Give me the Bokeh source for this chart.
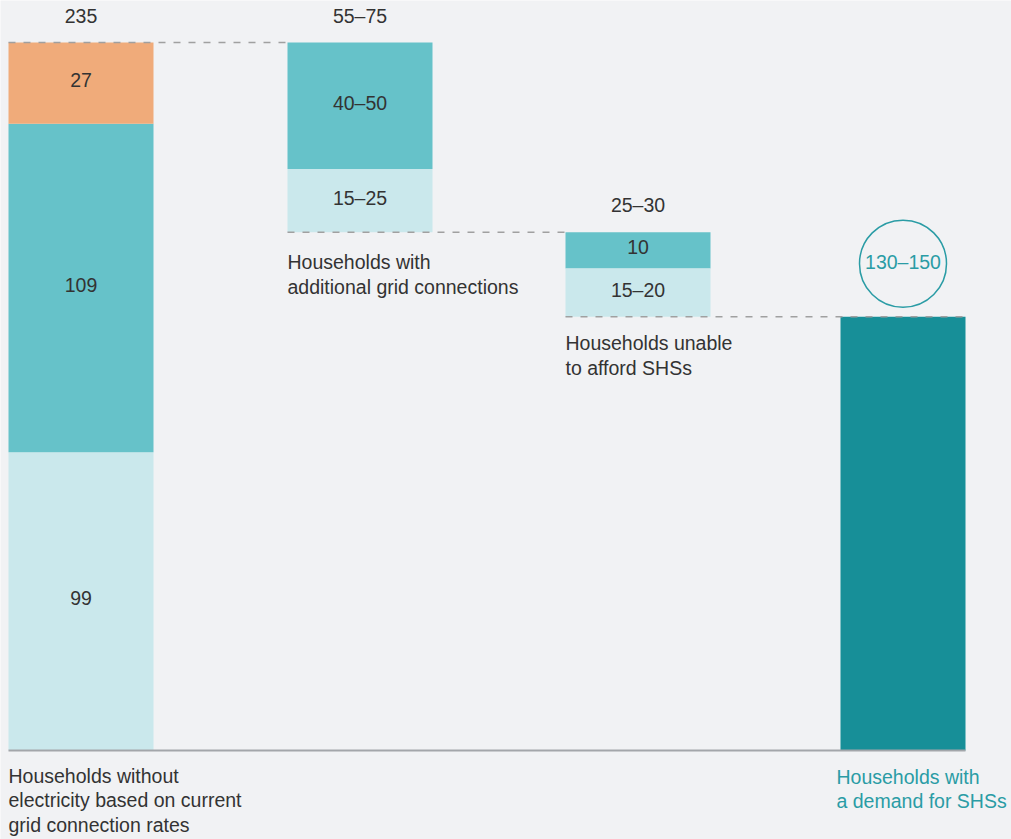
from bokeh.plotting import figure
from bokeh.models import Range1d
from bokeh.core.properties import value
from bokeh.embed import file_html
from bokeh.resources import INLINE

# ---- data ----
base_segments = [99, 109, 27]            # first bar, bottom to top
base_labels = ["99", "109", "27"]
base_total_label = "235"

grid_segments = [42, 21]                 # additional grid connections (top, lower)
grid_labels = ["40–50", "15–25"]
grid_total_label = "55–75"

afford_segments = [12, 16]               # households unable to afford SHSs (top, lower)
afford_labels = ["10", "15–20"]
afford_total_label = "25–30"

demand_label = "130–150"

cat_labels = [
    "Households without\nelectricity based on current\ngrid connection rates",
    "Households with\nadditional grid connections",
    "Households unable\nto afford SHSs",
    "Households with\na demand for SHSs",
]

# ---- colours / layout ----
BG = "#f1f2f4"
ORANGE = "#f0ab7a"
TEAL = "#66c2c9"
LIGHT = "#cae8ec"
DARK = "#178f98"
TXT = "#333333"
TEAL_TXT = "#2a9ca5"
FONT = "Liberation Sans"
FS = "19.5px"
LH = 1.13

W, H = 1011, 839
px_per_unit = 708 / 235.0
base_px = 750
y0 = -(H - base_px) / px_per_unit
y1 = base_px / px_per_unit

p = figure(width=W, height=H, output_backend="svg", toolbar_location=None,
           x_range=Range1d(0, W), y_range=Range1d(y0, y1),
           min_border=0, background_fill_color=BG, border_fill_color=BG,
           outline_line_color=None)
p.axis.visible = False
p.grid.visible = False

# bar horizontal layout (left, right)
b1 = (8, 153)
b2 = (287, 432)
b3 = (565, 710)
b4 = (840, 965)

total = sum(base_segments)
# bar 1 stacked
bottoms = [0, base_segments[0], base_segments[0] + base_segments[1]]
tops = [bottoms[i] + base_segments[i] for i in range(3)]
p.quad(left=[b1[0]] * 3, right=[b1[1]] * 3, bottom=bottoms, top=tops,
       fill_color=[LIGHT, TEAL, ORANGE], line_color=None)

# bar 2 floating
g_top = total
g_mid = g_top - grid_segments[0]
g_bot = g_mid - grid_segments[1]
p.quad(left=[b2[0]] * 2, right=[b2[1]] * 2, bottom=[g_mid, g_bot], top=[g_top, g_mid],
       fill_color=[TEAL, LIGHT], line_color=None)

# bar 3 floating
a_top = g_bot
a_mid = a_top - afford_segments[0]
a_bot = a_mid - afford_segments[1]
p.quad(left=[b3[0]] * 2, right=[b3[1]] * 2, bottom=[a_mid, a_bot], top=[a_top, a_mid],
       fill_color=[TEAL, LIGHT], line_color=None)

# bar 4 result
p.quad(left=[b4[0]], right=[b4[1]], bottom=[0], top=[a_bot], fill_color=DARK, line_color=None)

# baseline
p.line([b1[0], b4[1]], [0, 0], line_color="#a3a6aa", line_width=2)

# dashed connectors
dash = "7 8"
p.line([b1[0], b2[0]], [g_top, g_top], line_color="#a0a0a0", line_width=1.5, line_dash=dash)
p.line([b2[0], b3[0]], [g_bot, g_bot], line_color="#a0a0a0", line_width=1.5, line_dash=dash)
p.line([b3[0], b4[1]], [a_bot, a_bot], line_color="#a0a0a0", line_width=1.5, line_dash=dash)

def cx(b):
    return (b[0] + b[1]) / 2

# segment labels
seg_x = [cx(b1)] * 3 + [cx(b2)] * 2 + [cx(b3)] * 2
seg_y = ([(bottoms[i] + tops[i]) / 2 for i in range(3)] +
         [(g_top + g_mid) / 2, (g_mid + g_bot) / 2] +
         [(a_top + a_mid) / 2, (a_mid + a_bot) / 2])
seg_t = base_labels + grid_labels + afford_labels
p.text(x=seg_x, y=seg_y, text=seg_t, text_align="center", text_baseline="middle",
       y_offset=-3, text_color=TXT, text_font=value(FONT), text_font_size=FS)

# total labels above bars
p.text(x=[cx(b1), cx(b2), cx(b3)], y=[total, g_top, a_top],
       text=[base_total_label, grid_total_label, afford_total_label],
       text_align="center", text_baseline="middle", y_offset=-27,
       text_color=TXT, text_font=value(FONT), text_font_size=FS)

# category labels
p.text(x=[b1[0]], y=[0], text=[cat_labels[0]], text_align="left", text_baseline="top",
       y_offset=14, text_color=TXT, text_font=value(FONT), text_font_size=FS,
       text_line_height=LH)
p.text(x=[b2[0]], y=[g_bot], text=[cat_labels[1]],
       text_align="left", text_baseline="top", y_offset=19, text_color=TXT,
       text_font=value(FONT), text_font_size=FS, text_line_height=LH)
p.text(x=[b3[0]], y=[a_bot], text=[cat_labels[2]],
       text_align="left", text_baseline="top", y_offset=15, text_color=TXT,
       text_font=value(FONT), text_font_size=FS, text_line_height=LH)
p.text(x=[b4[0] - 4], y=[0], text=[cat_labels[3]], text_align="left", text_baseline="top",
       y_offset=15, text_color=TEAL_TXT, text_font=value(FONT), text_font_size=FS,
       text_line_height=LH)

# circle with result
circ_y = a_bot + 53 / px_per_unit
p.circle(x=[cx(b4)], y=[circ_y], radius=43.5, radius_units="screen",
         fill_color=None, line_color=TEAL_TXT, line_width=1.5)
p.text(x=[cx(b4)], y=[circ_y], text=[demand_label], text_align="center",
       text_baseline="middle", y_offset=-2, text_color=TEAL_TXT, text_font=value(FONT),
       text_font_size=FS)

html = file_html(p, INLINE)
html = html.replace("<body>", '<body style="background:%s">' % BG, 1)
open("out.html", "w").write(html)
